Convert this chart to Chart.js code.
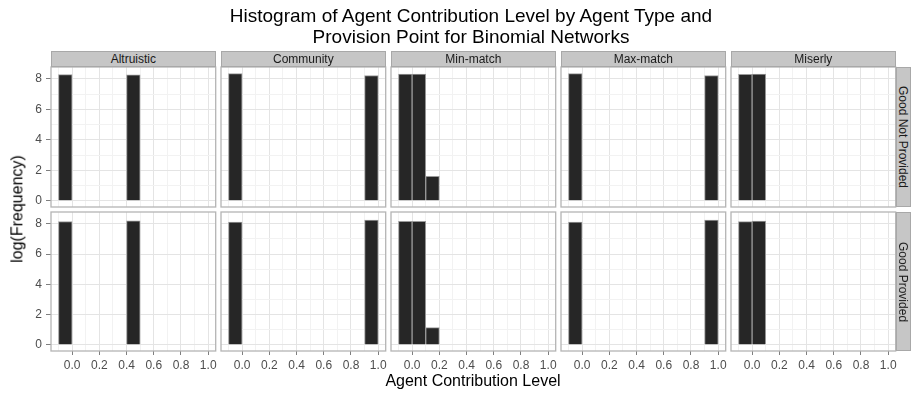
<!DOCTYPE html>
<html>
<head>
<meta charset="utf-8">
<script src="https://cdn.jsdelivr.net/npm/chart.js@4/dist/chart.umd.min.js"></script>
<style>
  body { margin: 0; background: #fff; font-family: "Liberation Sans", Arial, sans-serif; }
  #wrap { position: relative; width: 912px; height: 394px; overflow: hidden; }
  canvas { position: absolute; left: 0; top: 0; }
  .txt { position: absolute; white-space: nowrap; color: #000; line-height: 1.2; }
  .strip { position: absolute; background: #c6c6c6; box-sizing: border-box; border: 1px solid #a8a8a8;
           font-size: 12px; color: #1a1a1a; display: flex; align-items: center; justify-content: center; }
  .vstrip span { transform: rotate(90deg); display: block; white-space: nowrap; }
</style>
</head>
<body>
<div id="wrap"></div>
<script>
// bin centres, binwidth 0.1
const binCenters = [-0.05, 0.05, 0.15, 0.25, 0.35, 0.45, 0.55, 0.65, 0.75, 0.85, 0.95];
const agentTypes = ["Altruistic", "Community", "Min-match", "Max-match", "Miserly"];
const provisionRows = ["Good Not Provided", "Good Provided"];

// log(frequency) per bin, one list per agent type (null = empty bin)
const notProvided = [
  [8.28, null, null, null, null, 8.27, null, null, null, null, null],
  [8.35, null, null, null, null, null, null, null, null, null, 8.22],
  [8.31, 8.31, 1.61, null, null, null, null, null, null, null, null],
  [8.35, null, null, null, null, null, null, null, null, null, 8.22],
  [8.30, 8.32, null, null, null, null, null, null, null, null, null],
];
const provided = [
  [8.15, null, null, null, null, 8.19, null, null, null, null, null],
  [8.11, null, null, null, null, null, null, null, null, null, 8.24],
  [8.16, 8.16, 1.14, null, null, null, null, null, null, null, null],
  [8.11, null, null, null, null, null, null, null, null, null, 8.24],
  [8.14, 8.18, null, null, null, null, null, null, null, null, null],
];

const W = 912, H = 394;
const colLeft = [51, 221, 391, 561, 731];
const colWidth = 164.7;
const rowTop = [67, 212];
const rowHeight = [140, 139];
const yAxisW = 42, xAxisH = 24;

const wrap = document.getElementById("wrap");
const isMajorX = (v) => Math.abs(Math.round(v * 10)) % 2 === 0;
const isMajorY = (v) => Math.abs(Math.round(v)) % 2 === 0;

const panelBorder = {
  id: "panelBorder",
  afterDraw(chart) {
    const { ctx, chartArea: a } = chart;
    ctx.save();
    ctx.strokeStyle = "#b4b4b4";
    ctx.lineWidth = 1.3;
    ctx.strokeRect(a.left, a.top, a.right - a.left, a.bottom - a.top);
    ctx.restore();
  },
};

function addText(text, css) {
  const d = document.createElement("div");
  d.className = "txt";
  d.textContent = text;
  Object.assign(d.style, css);
  wrap.appendChild(d);
  return d;
}

[notProvided, provided].forEach((rowData, r) => {
  rowData.forEach((values, c) => {
    const canvas = document.createElement("canvas");
    canvas.width = W;
    canvas.height = H;
    wrap.appendChild(canvas);
    const left = colLeft[c], top = rowTop[r];
    const showY = c === 0, showX = r === 1;
    const yw = showY ? yAxisW : 0, xh = showX ? xAxisH : 0;

    new Chart(canvas, {
      type: "bar",
      data: {
        datasets: [{
          data: binCenters.map((x, i) => ({ x: x, y: values[i] })),
          backgroundColor: "#262626",
          borderColor: "#9a9a9a",
          borderWidth: 1,
          barPercentage: 1,
          categoryPercentage: 1,
        }],
      },
      options: {
        responsive: false,
        animation: false,
        devicePixelRatio: 1,
        layout: {
          padding: {
            left: left - yw,
            top: top,
            right: W - left - colWidth,
            bottom: H - top - rowHeight[r] - xh,
          },
        },
        plugins: { legend: { display: false }, tooltip: { enabled: false } },
        scales: {
          x: {
            type: "linear",
            min: -0.155,
            max: 1.055,
            offset: false,
            afterFit: (s) => { s.height = xh; },
            border: { display: false },
            grid: {
              offset: false,
              drawTicks: showX,
              tickLength: 4,
              color: (ctx) => (isMajorX(ctx.tick.value) ? "#e4e4e4" : "#f2f2f2"),
              tickColor: (ctx) => (isMajorX(ctx.tick.value) ? "#7f7f7f" : "rgba(0,0,0,0)"),
            },
            ticks: {
              display: showX,
              stepSize: 0.1,
              includeBounds: false,
              autoSkip: false,
              minRotation: 0,
              maxRotation: 0,
              padding: 3,
              color: "#4d4d4d",
              font: { family: "Liberation Sans", size: 12 },
              callback: (v) => (isMajorX(v) ? v.toFixed(1) : ""),
            },
          },
          y: {
            min: -0.41,
            max: 8.78,
            afterFit: (s) => { s.width = yw; },
            border: { display: false },
            grid: {
              drawTicks: showY,
              tickLength: 5,
              color: (ctx) => (isMajorY(ctx.tick.value) ? "#e4e4e4" : "#f2f2f2"),
              tickColor: (ctx) => (isMajorY(ctx.tick.value) ? "#7f7f7f" : "rgba(0,0,0,0)"),
            },
            ticks: {
              display: showY,
              stepSize: 1,
              includeBounds: false,
              padding: 4,
              color: "#4d4d4d",
              font: { family: "Liberation Sans", size: 12 },
              callback: (v) => (isMajorY(v) ? String(v) : ""),
            },
          },
        },
      },
      plugins: [panelBorder],
    });
  });
});

// strips along the top
agentTypes.forEach((name, c) => {
  const s = document.createElement("div");
  s.className = "strip";
  Object.assign(s.style, { left: colLeft[c] + "px", top: "51px", width: colWidth + "px", height: "16px" });
  s.textContent = name;
  wrap.appendChild(s);
});

// strips on the right
provisionRows.forEach((name, r) => {
  const s = document.createElement("div");
  s.className = "strip vstrip";
  Object.assign(s.style, { left: "896px", top: rowTop[r] + "px", width: "15px", height: rowHeight[r] + "px" });
  const sp = document.createElement("span");
  sp.textContent = name;
  s.appendChild(sp);
  wrap.appendChild(s);
});

// titles
addText("Histogram of Agent Contribution Level by Agent Type and", { left: "0", width: "942px", textAlign: "center", top: "5px", fontSize: "19px" });
addText("Provision Point for Binomial Networks", { left: "0", width: "942px", textAlign: "center", top: "26px", fontSize: "19px" });
addText("Agent Contribution Level", { left: "0", width: "946px", textAlign: "center", top: "371px", fontSize: "16px" });
const yt = addText("log(Frequency)", { left: "17px", top: "209px", fontSize: "16px" });
yt.style.transform = "translate(-50%, -50%) rotate(-90deg)";
</script>
</body>
</html>
